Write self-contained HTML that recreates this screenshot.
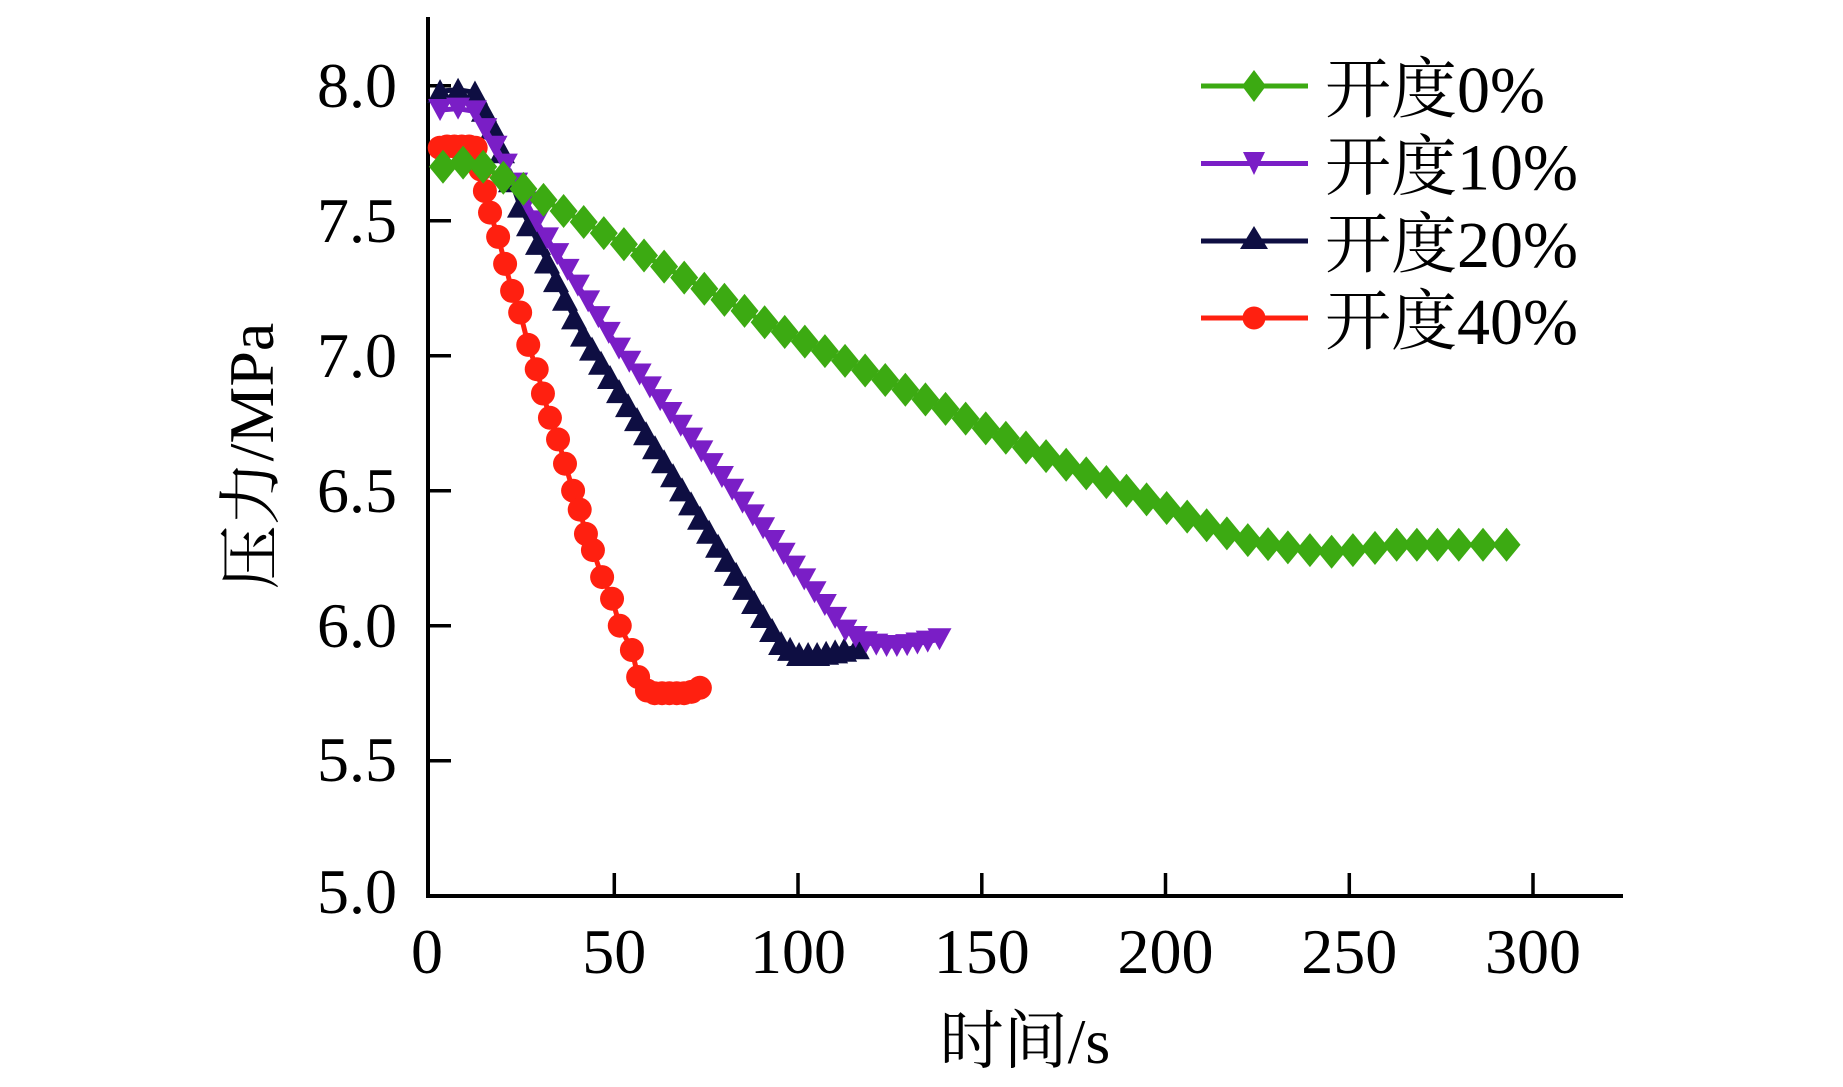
<!DOCTYPE html>
<html><head><meta charset="utf-8"><style>
html,body{margin:0;padding:0;background:#fff;}
svg{display:block;}
text{font-family:"Liberation Serif","Noto Serif CJK SC",serif;fill:#000;}
</style></head><body>
<svg width="1843" height="1087" viewBox="0 0 1843 1087" xmlns="http://www.w3.org/2000/svg">
<defs>
<marker id="mG" markerUnits="userSpaceOnUse" overflow="visible" refX="0" refY="0" markerWidth="1" markerHeight="1"><path d="M0 0.063 L3.81 0 L0 -0.063 L-3.81 0 Z" fill="#3caa12"/></marker>
<marker id="mP" markerUnits="userSpaceOnUse" overflow="visible" refX="0" refY="0" markerWidth="1" markerHeight="1"><path d="M-3.265 0.04074 L3.265 0.04074 L0 -0.04074 Z" fill="#7a1ec6"/></marker>
<marker id="mN" markerUnits="userSpaceOnUse" overflow="visible" refX="0" refY="0" markerWidth="1" markerHeight="1"><path d="M-3.537 -0.04444 L3.537 -0.04444 L0 0.04444 Z" fill="#0e0e42"/></marker>
<marker id="mR" markerUnits="userSpaceOnUse" overflow="visible" refX="0" refY="0" markerWidth="1" markerHeight="1"><ellipse cx="0" cy="0" rx="3.265" ry="0.04444" fill="#ff2010"/></marker>
</defs>
<rect width="1843" height="1087" fill="#fff"/>

<!-- axes -->
<line x1="428" y1="17" x2="428" y2="898" stroke="#000" stroke-width="4"/>
<line x1="426" y1="896" x2="1623" y2="896" stroke="#000" stroke-width="4"/>
<g stroke="#000" stroke-width="3.5">
<line x1="428" y1="85.7" x2="451" y2="85.7"/>
<line x1="428" y1="220.7" x2="451" y2="220.7"/>
<line x1="428" y1="355.7" x2="451" y2="355.7"/>
<line x1="428" y1="490.7" x2="451" y2="490.7"/>
<line x1="428" y1="625.7" x2="451" y2="625.7"/>
<line x1="428" y1="760.7" x2="451" y2="760.7"/>
<line x1="614.3" y1="873" x2="614.3" y2="896"/>
<line x1="798" y1="873" x2="798" y2="896"/>
<line x1="981.8" y1="873" x2="981.8" y2="896"/>
<line x1="1165.5" y1="873" x2="1165.5" y2="896"/>
<line x1="1349.3" y1="873" x2="1349.3" y2="896"/>
<line x1="1533" y1="873" x2="1533" y2="896"/>
</g>

<!-- y tick labels -->
<g font-size="64" text-anchor="end">
<text x="397" y="107">8.0</text>
<text x="397" y="242">7.5</text>
<text x="397" y="377">7.0</text>
<text x="397" y="512">6.5</text>
<text x="397" y="647">6.0</text>
<text x="397" y="781">5.5</text>
<text x="397" y="913">5.0</text>
</g>
<!-- x tick labels -->
<g font-size="64" text-anchor="middle">
<text x="427" y="973">0</text>
<text x="614.3" y="973">50</text>
<text x="798" y="973">100</text>
<text x="981.8" y="973">150</text>
<text x="1165.5" y="973">200</text>
<text x="1349.3" y="973">250</text>
<text x="1533" y="973">300</text>
</g>

<!-- axis titles -->
<text font-size="64" text-anchor="middle" transform="translate(273,456) rotate(-90)">压力/MPa</text>
<text font-size="64" text-anchor="middle" x="1025" y="1063">时间/s</text>

<!-- series -->
<g transform="matrix(3.675 0 0 -270 430.5 2245.7)" fill="none" stroke-linejoin="round" stroke-linecap="round">
<polyline vector-effect="non-scaling-stroke" stroke="#0e0e42" stroke-width="5" marker-start="url(#mN)" marker-mid="url(#mN)" marker-end="url(#mN)" points="2.6,7.98 7.5,7.985 12.1,7.975 14.55,7.911 17,7.846 19.45,7.757 21.9,7.65 24.35,7.556 26.8,7.487 29.25,7.418 31.7,7.349 34.15,7.28 36.6,7.211 39.05,7.142 41.5,7.078 43.95,7.026 46.4,6.974 48.85,6.921 51.3,6.869 53.75,6.817 56.2,6.765 58.65,6.713 61.1,6.661 63.55,6.609 66,6.557 68.45,6.505 70.9,6.453 73.35,6.4 75.8,6.348 78.25,6.296 80.7,6.244 83.15,6.192 85.6,6.14 88.05,6.088 90.5,6.036 92.95,5.984 95.4,5.936 97.85,5.914 100.3,5.895 102.75,5.895 105.2,5.895 107.65,5.9 110.1,5.905 112.55,5.911 116,5.92"/>
<polyline vector-effect="non-scaling-stroke" stroke="#7a1ec6" stroke-width="5" marker-start="url(#mP)" marker-mid="url(#mP)" marker-end="url(#mP)" points="2.6,7.91 7.5,7.915 12.1,7.905 14.9,7.839 17.7,7.774 20.5,7.7075 23.3,7.6375 26.1,7.5675 28.9,7.4975 31.7,7.4346 34.5,7.3763 37.3,7.318 40.1,7.2596 42.9,7.2013 45.7,7.1429 48.5,7.0846 51.3,7.0263 54.1,6.9777 56.9,6.9302 59.7,6.8828 62.5,6.8354 65.3,6.788 68.1,6.7405 70.9,6.6931 73.7,6.6457 76.5,6.5983 79.3,6.5508 82.1,6.5034 84.9,6.456 87.7,6.4086 90.5,6.3611 93.3,6.3137 96.1,6.2663 98.9,6.2188 101.7,6.1714 104.5,6.124 107.3,6.0766 110.1,6.0291 112.9,5.9817 115.7,5.958 118.5,5.9385 121.3,5.93 124.1,5.925 126.9,5.925 129.7,5.928 132.5,5.934 135.3,5.941 138.5,5.95"/>
<polyline vector-effect="non-scaling-stroke" stroke="#ff2010" stroke-width="5" marker-start="url(#mR)" marker-mid="url(#mR)" marker-end="url(#mR)" points="2.5,7.77 4.5,7.775 6.5,7.775 8.5,7.775 10.5,7.775 12.3,7.77 13.6,7.69 14.8,7.61 16.2,7.53 18.4,7.44 20.3,7.34 22.2,7.24 24.4,7.16 26.6,7.04 28.9,6.95 30.6,6.86 32.5,6.77 34.7,6.69 36.6,6.6 38.8,6.5 40.6,6.43 42.3,6.34 44.2,6.28 46.7,6.18 49.4,6.1 51.5,6.0 54.8,5.91 56.5,5.81 58.9,5.76 61,5.75 63,5.75 65,5.75 67,5.75 69,5.75 71,5.755 73.3,5.77"/>
<polyline vector-effect="non-scaling-stroke" stroke="#3caa12" stroke-width="5" marker-start="url(#mG)" marker-mid="url(#mG)" marker-end="url(#mG)" points="3.4,7.7 8.87,7.715 14.34,7.7 19.81,7.659 25.28,7.618 30.75,7.577 36.22,7.536 41.69,7.495 47.16,7.454 52.63,7.413 58.1,7.371 63.57,7.33 69.04,7.289 74.51,7.248 79.98,7.207 85.45,7.166 90.92,7.124 96.39,7.088 101.86,7.052 107.33,7.017 112.8,6.981 118.27,6.945 123.74,6.91 129.21,6.874 134.68,6.838 140.15,6.803 145.62,6.767 151.09,6.731 156.56,6.696 162.03,6.66 167.5,6.628 172.97,6.596 178.44,6.564 183.91,6.532 189.38,6.5 194.85,6.468 200.32,6.436 205.9,6.404 211.2,6.372 216.7,6.342 222.4,6.317 227.9,6.302 233.3,6.29 239.3,6.28 245.2,6.274 251,6.28 257,6.288 262.9,6.3 268.4,6.3 274,6.3 279.8,6.3 286.4,6.3 292.8,6.3"/>
</g>

<!-- legend -->
<g>
<line x1="1201" y1="86" x2="1308" y2="86" stroke="#3caa12" stroke-width="5"/>
<path d="M1254 70 L1266 86 L1254 102 L1242 86 Z" fill="#3caa12"/>
<text x="1325" y="112" font-size="66">开度0%</text>

<line x1="1201" y1="163.5" x2="1308" y2="163.5" stroke="#7a1ec6" stroke-width="5"/>
<path d="M1243 152 L1265 152 L1254 175 Z" fill="#7a1ec6"/>
<text x="1325" y="189.5" font-size="66">开度10%</text>

<line x1="1201" y1="241" x2="1308" y2="241" stroke="#0e0e42" stroke-width="5"/>
<path d="M1240 249 L1268 249 L1254 226 Z" fill="#0e0e42"/>
<text x="1325" y="267" font-size="66">开度20%</text>

<line x1="1201" y1="318" x2="1308" y2="318" stroke="#ff2010" stroke-width="5"/>
<circle cx="1254" cy="318" r="11.5" fill="#ff2010"/>
<text x="1325" y="344" font-size="66">开度40%</text>
</g>
</svg>
</body></html>
